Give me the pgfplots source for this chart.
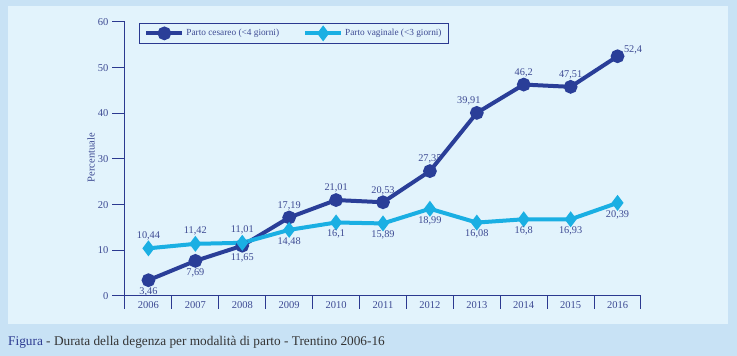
\documentclass[border=0pt]{standalone}
\usepackage{fontspec}
\setmainfont{Liberation Serif}
\usepackage{pgfplots}
\pgfplotsset{compat=1.18}
\definecolor{outerbg}{HTML}{C8E2F5}
\definecolor{innerbg}{HTML}{E2F3FC}
\definecolor{axisblue}{HTML}{2B3990}
\definecolor{darkser}{HTML}{2A3E98}
\definecolor{lightser}{HTML}{1AAFE3}
\definecolor{txt}{HTML}{3D4A93}
\begin{document}
\begin{tikzpicture}[x=1pt,y=1pt]
\useasboundingbox (-125,-60) rectangle (612,296);
\fill[outerbg] (-125,-60) rectangle (612,296);
\fill[innerbg] (-117,-28) rectangle (603,290);
\node[anchor=west, font=\fontsize{13.3}{15}\selectfont, text=black!80, inner sep=0pt] at (-117,-46) {\textcolor{axisblue}{Figura} - Durata della degenza per modalità di parto - Trentino 2006-16};
\begin{axis}[
  at={(0,0)}, anchor=south west,
  scale only axis, width=516pt, height=274pt,
  xmin=2005.5, xmax=2016.5, ymin=0, ymax=60,
  axis lines=left,
  axis line style={axisblue, line width=1pt, -},
  xtick={2005.5,2006.5,...,2016.5},
  xticklabels={},
  extra x ticks={2006,2007,2008,2009,2010,2011,2012,2013,2014,2015,2016},
  extra x tick labels={2006,2007,2008,2009,2010,2011,2012,2013,2014,2015,2016},
  extra x tick style={major tick length=0pt, xticklabel style={yshift=-2pt}},
  ytick={0,10,...,60},
  major tick length=13pt,
  tick align=outside,
  tick style={axisblue, line width=1pt},
  xticklabel style={font=\fontsize{10.5}{12}\selectfont, text=txt},
  yticklabel style={font=\fontsize{10.5}{12}\selectfont, text=txt},
  /pgf/number format/assume math mode=true,
  ylabel={Percentuale},
  ylabel style={at={(axis description cs:-0.066,0.505)}, anchor=center, rotate=0, font=\fontsize{10.5}{12}\selectfont, text=txt},
  legend columns=2,
  legend style={at={(axis description cs:0.0271,0.9964)}, anchor=north west, draw=axisblue, line width=0.8pt, fill=innerbg, font=\fontsize{9.3}{10}\selectfont, text=txt, inner xsep=5pt, inner ysep=4pt, /tikz/every even column/.append style={column sep=22pt}},
  legend image code/.code={\draw[#1, mark repeat=2, mark phase=2] plot coordinates {(0pt,0pt) (18pt,0pt) (36pt,0pt)};},
  clip=false,
]
\addplot[darkser, line width=4pt, mark=*, mark size=4.8pt, mark options={solid}] coordinates {
(2006,3.46) (2007,7.69) (2008,11.01) (2009,17.19) (2010,21.01) (2011,20.53) (2012,27.35) (2013,40.1) (2014,46.3) (2015,45.8) (2016,52.5)};
\addlegendentry{Parto cesareo (<4 giorni)}
\addplot[lightser, line width=4pt, mark=diamond*, mark size=4.7pt, mark options={solid}] coordinates {
(2006,10.44) (2007,11.42) (2008,11.65) (2009,14.48) (2010,16.1) (2011,15.89) (2012,19.1) (2013,16.08) (2014,16.8) (2015,16.8) (2016,20.39)};
\addlegendentry{Parto vaginale (<3 giorni)}
% labels dark series
\addplot[draw=none, forget plot, nodes near coords, point meta=explicit symbolic,
  every node near coord/.style={anchor=north, yshift=-4pt, font=\fontsize{10.3}{11}\selectfont, text=txt}] coordinates {
(2006,3.46) [3,46] (2007,7.69) [7,69] (2008,11.01) [11,65]};
\addplot[draw=none, forget plot, nodes near coords, point meta=explicit symbolic,
  every node near coord/.style={anchor=south, yshift=4pt, font=\fontsize{10.3}{11}\selectfont, text=txt}] coordinates {
(2009,17.19) [17,19] (2010,21.01) [21,01] (2011,20.53) [20,53] (2012,27.35) [27,35] (2014,46.3) [46,2] (2015,45.8) [47,51]};
\addplot[draw=none, forget plot, nodes near coords, point meta=explicit symbolic,
  every node near coord/.style={anchor=south, yshift=4pt, xshift=-8pt, font=\fontsize{10.3}{11}\selectfont, text=txt}] coordinates {
(2013,40.1) [39,91]};
\addplot[draw=none, forget plot, nodes near coords, point meta=explicit symbolic,
  every node near coord/.style={anchor=south west, xshift=3pt, yshift=-1pt, font=\fontsize{10.3}{11}\selectfont, text=txt}] coordinates {
(2016,52.5) [52,4]};
% labels light series
\addplot[draw=none, forget plot, nodes near coords, point meta=explicit symbolic,
  every node near coord/.style={anchor=south, yshift=5pt, font=\fontsize{10.3}{11}\selectfont, text=txt}] coordinates {
(2006,10.44) [10,44] (2007,11.42) [11,42] (2008,11.65) [11,01]};
\addplot[draw=none, forget plot, nodes near coords, point meta=explicit symbolic,
  every node near coord/.style={anchor=north, yshift=-4pt, font=\fontsize{10.3}{11}\selectfont, text=txt}] coordinates {
(2009,14.48) [14,48] (2010,16.1) [16,1] (2011,15.89) [15,89] (2012,19.1) [18,99] (2013,16.08) [16,08] (2014,16.8) [16,8] (2015,16.8) [16,93] (2016,20.39) [20,39]};
\end{axis}
\end{tikzpicture}
\end{document}
